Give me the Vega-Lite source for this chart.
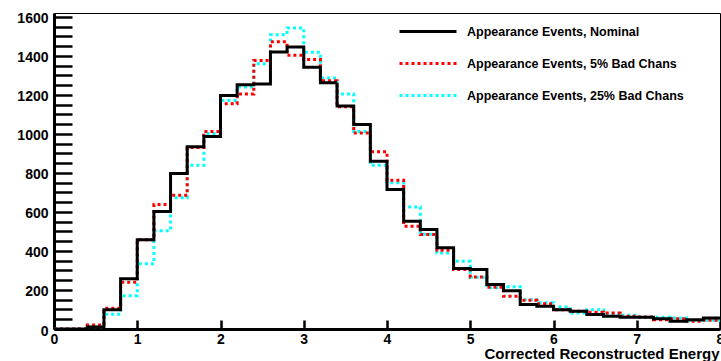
{
  "$schema": "https://vega.github.io/schema/vega-lite/v6.json",
  "width": 666,
  "height": 316,
  "autosize": {"type": "none"},
  "padding": {"left": 54, "top": 13, "right": 1, "bottom": 32},
  "background": "white",
  "config": {"view": {"stroke": "black", "strokeWidth": 1}, "font": "Liberation Sans"},
  "data": {"values": [
    {"x": 0, "nom": 0, "r5": 0, "c25": 0},
    {"x": 0.2, "nom": 0, "r5": 0, "c25": 0},
    {"x": 0.4, "nom": 10, "r5": 20, "c25": 12},
    {"x": 0.6, "nom": 99, "r5": 106, "c25": 76},
    {"x": 0.8, "nom": 257, "r5": 240, "c25": 171},
    {"x": 1.0, "nom": 457, "r5": 457, "c25": 334},
    {"x": 1.2, "nom": 602, "r5": 638, "c25": 504},
    {"x": 1.4, "nom": 797, "r5": 686, "c25": 673},
    {"x": 1.6, "nom": 934, "r5": 930, "c25": 839},
    {"x": 1.8, "nom": 987, "r5": 1013, "c25": 1002},
    {"x": 2.0, "nom": 1197, "r5": 1155, "c25": 1172},
    {"x": 2.2, "nom": 1252, "r5": 1205, "c25": 1241},
    {"x": 2.4, "nom": 1256, "r5": 1376, "c25": 1360},
    {"x": 2.6, "nom": 1420, "r5": 1472, "c25": 1509},
    {"x": 2.8, "nom": 1446, "r5": 1403, "c25": 1543},
    {"x": 3.0, "nom": 1342, "r5": 1381, "c25": 1419},
    {"x": 3.2, "nom": 1262, "r5": 1273, "c25": 1287},
    {"x": 3.4, "nom": 1143, "r5": 1140, "c25": 1205},
    {"x": 3.6, "nom": 1048, "r5": 1005, "c25": 1012},
    {"x": 3.8, "nom": 860, "r5": 909, "c25": 839},
    {"x": 4.0, "nom": 715, "r5": 762, "c25": 750},
    {"x": 4.2, "nom": 552, "r5": 527, "c25": 626},
    {"x": 4.4, "nom": 510, "r5": 484, "c25": 486},
    {"x": 4.6, "nom": 416, "r5": 404, "c25": 390},
    {"x": 4.8, "nom": 310, "r5": 305, "c25": 347},
    {"x": 5.0, "nom": 305, "r5": 267, "c25": 265},
    {"x": 5.2, "nom": 228, "r5": 214, "c25": 212},
    {"x": 5.4, "nom": 196, "r5": 168, "c25": 216},
    {"x": 5.6, "nom": 125, "r5": 147, "c25": 150},
    {"x": 5.8, "nom": 116, "r5": 130, "c25": 134},
    {"x": 6.0, "nom": 99, "r5": 99, "c25": 113},
    {"x": 6.2, "nom": 91, "r5": 91, "c25": 82},
    {"x": 6.4, "nom": 74, "r5": 86, "c25": 99},
    {"x": 6.6, "nom": 65, "r5": 82, "c25": 79},
    {"x": 6.8, "nom": 60, "r5": 65, "c25": 70},
    {"x": 7.0, "nom": 60, "r5": 62, "c25": 60},
    {"x": 7.2, "nom": 53, "r5": 48, "c25": 60},
    {"x": 7.4, "nom": 40, "r5": 53, "c25": 57},
    {"x": 7.6, "nom": 48, "r5": 40, "c25": 43},
    {"x": 7.8, "nom": 57, "r5": 45, "c25": 45},
    {"x": 8.0, "nom": 57, "r5": 45, "c25": 45}
  ]},
  "transform": [{"fold": ["c25", "r5", "nom"], "as": ["series", "v"]}],
  "mark": {"type": "line", "interpolate": "step-after", "strokeWidth": 3, "clip": true},
  "encoding": {
    "x": {
      "field": "x", "type": "quantitative",
      "scale": {"domain": [0, 8], "nice": false, "zero": false},
      "axis": {
        "tickCount": 40,
        "labelExpr": "datum.value % 1 === 0 ? datum.label : ''",
        "format": "d",
        "title": "Corrected Reconstructed Energy",
        "titleX": 665, "titleY": 29.5, "titleAlign": "right", "titleBaseline": "alphabetic", "titleAnchor": null,
        "titleFont": "Liberation Sans", "titleFontWeight": "bold", "titleFontSize": 15, "titleColor": "black",
        "grid": false, "domainColor": "black", "domainWidth": 3,
        "ticks": true, "tickColor": "black", "tickWidth": 2.5, "tickSize": -9,
        "labelPadding": 12, "labelFont": "Liberation Sans", "labelFontWeight": "bold", "labelFontSize": 14, "labelColor": "black",
        "labelOverlap": false, "labelFlush": false,
        "encode": {"ticks": {"update": {"y2": {"signal": "datum.value % 1 === 0 ? -9 : -5"}}}}
      }
    },
    "y": {
      "field": "v", "type": "quantitative",
      "scale": {"domain": [0, 1620], "nice": false, "zero": true},
      "axis": {
        "values": [0,50,100,150,200,250,300,350,400,450,500,550,600,650,700,750,800,850,900,950,1000,1050,1100,1150,1200,1250,1300,1350,1400,1450,1500,1550,1600],
        "tickCount": 100,
        "labelExpr": "datum.value % 200 === 0 ? datum.label : ''",
        "format": "d",
        "title": null, "grid": false, "domainColor": "black", "domainWidth": 3,
        "ticks": true, "tickColor": "black", "tickWidth": 2.5, "tickSize": -18,
        "labelPadding": 24, "labelFont": "Liberation Sans", "labelFontWeight": "bold", "labelFontSize": 14, "labelColor": "black",
        "labelBaseline": "middle", "labelOffset": 2, "labelOverlap": false, "labelFlush": false,
        "encode": {"ticks": {"update": {"x2": {"signal": "datum.value % 200 === 0 ? 18 : 9"}}}}
      }
    },
    "color": {
      "field": "series", "type": "nominal",
      "scale": {"domain": ["nom", "r5", "c25"], "range": ["#000000", "#ff0000", "#00ffff"]},
      "legend": {
        "orient": "none", "legendX": 367.5, "legendY": 12, "title": null, "padding": 0,
        "symbolType": "M-5.7,0H5.7", "symbolSize": 100, "symbolStrokeWidth": 3,
        "labelOffset": 32.5, "labelFont": "Liberation Sans", "labelFontWeight": "bold", "labelFontSize": 12.5, "labelColor": "black", "labelLimit": 400,
        "rowPadding": 19,
        "labelExpr": "datum.value === 'nom' ? 'Appearance Events, Nominal' : datum.value === 'r5' ? 'Appearance Events, 5% Bad Chans' : 'Appearance Events, 25% Bad Chans'"
      }
    },
    "strokeDash": {
      "field": "series", "type": "nominal",
      "scale": {"domain": ["nom", "r5", "c25"], "range": [[1, 0], [3, 3], [3, 3]]},
      "legend": {
        "orient": "none", "legendX": 367.5, "legendY": 12, "title": null, "padding": 0,
        "symbolType": "M-5.7,0H5.7", "symbolSize": 100, "symbolStrokeWidth": 3,
        "labelOffset": 32.5, "labelFont": "Liberation Sans", "labelFontWeight": "bold", "labelFontSize": 12.5, "labelColor": "black", "labelLimit": 400,
        "rowPadding": 19,
        "labelExpr": "datum.value === 'nom' ? 'Appearance Events, Nominal' : datum.value === 'r5' ? 'Appearance Events, 5% Bad Chans' : 'Appearance Events, 25% Bad Chans'"
      }
    }
  }
}
